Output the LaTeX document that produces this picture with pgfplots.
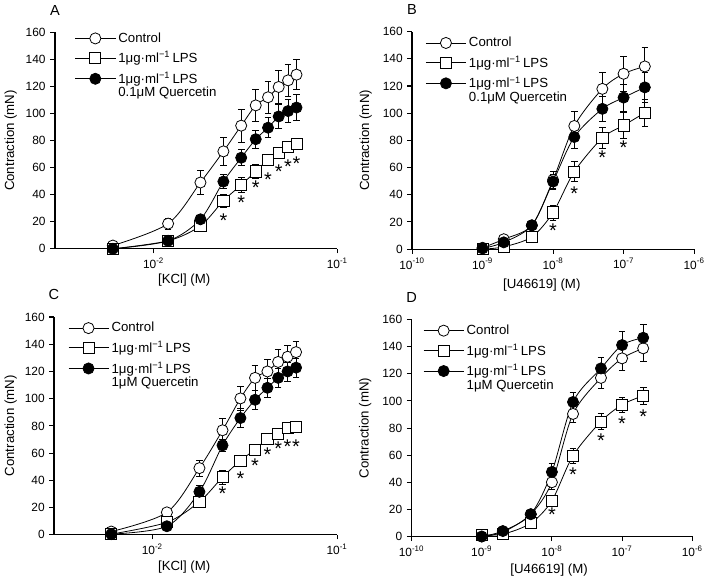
\documentclass[border=0pt]{standalone}
\usepackage{pgfplots}
\pgfplotsset{compat=1.18}
\usepackage{fontspec}
\setmainfont{Liberation Sans}
\newcommand{\lps}{1μg·ml\textsuperscript{\char"2212 1}\,LPS}
\newcommand{\fs}{\fontsize{10}{9.5}\selectfont}
\newcommand{\ft}{\fontsize{9}{10}\selectfont}

\pgfplotsset{
  mypanel/.style={
    scale only axis,
    axis lines*=left, axis line style={line width=0.9pt, -},
    tick style={line width=0.8pt, black}, tick align=outside, major tick length=3.5pt,
    xminorticks=false, yminorticks=false,
    ymin=0, ymax=160, ytick={0,20,...,160},
    clip=false,
    ylabel={Contraction (mN)},
    /pgf/number format/assume math mode=true,
    tick label style={font=\ft},
    label style={font=\fs},
    every axis title/.style={at={(rel axis cs:0,1)}, anchor=base, yshift=13pt, font=\fontsize{11}{12}\selectfont},
    legend style={draw=none, fill=none, font=\fs, anchor=north west, row sep=1.6pt, inner sep=0pt},
    legend cell align=left,
    legend image code/.code={\draw[mark repeat=2, mark phase=2, ##1] plot coordinates {(0cm,0cm) (0.53cm,0cm) (1.06cm,0cm)};},
  },
  myerr/.style={error bars/y dir=both, error bars/y explicit,
    error bars/error bar style={line width=0.6pt},
    error bars/error mark options={rotate=90, mark size=2.5pt, line width=0.6pt}},
  myctrl/.style={black, line width=0.6pt, smooth, mark=*, mark size=4.2pt, mark options={fill=white, draw=black, line width=0.6pt}, myerr},
  mylps/.style={black, line width=0.6pt, smooth, mark=square*, mark size=4.2pt, mark options={fill=white, draw=black, line width=0.6pt}, myerr},
  myquer/.style={black, line width=0.6pt, smooth, mark=*, mark size=4.2pt, mark options={fill=black, draw=black, line width=0.6pt}, myerr},
  mystar/.style={only marks, mark=text, text mark={\fontsize{15}{15}\selectfont *}, forget plot},
}

\begin{document}
\begin{tikzpicture}
\path (0,0) rectangle (531.75pt,-432.75pt);

% ---------- A ----------
\begin{semilogxaxis}[mypanel, at={(39.5pt,-185.25pt)}, anchor=south west,
  width=213.2pt, height=163.5pt, title={A},
  ylabel style={at={(rel axis cs:0,0.5)}, anchor=center, rotate=0, yshift=33.5pt},
  xmin=2.904e-3, xmax=0.1, xtick={0.01,0.1}, xticklabels={10\textsuperscript{-2},10\textsuperscript{-1}},
  xlabel={[KCl] (M)}, xlabel style={at={(rel axis cs:0.458,0)}, anchor=center, yshift=-23.25pt},
  legend style={at={(rel axis cs:0.07,1.012)}}]
\addplot[myctrl] table[x index=0, y index=1, y error index=2] {
0.006 2.4 1.5
0.012 18.6 4
0.018 49 9
0.024 72 10
0.030 91 12
0.036 106 12
0.042 112 12
0.048 119.6 12
0.054 124.5 11.5
0.060 128.7 11
};
\addlegendentry{Control}
\addplot[mylps] table[x index=0, y index=1, y error index=2] {
0.006 0 0.5
0.012 5.9 1.5
0.018 17 2.5
0.024 35.5 5
0.030 47.2 5.5
0.036 57.2 5
0.042 66 4
0.048 71 4
0.054 75 4
0.060 77.8 4
};
\addlegendentry{\lps}
\addplot[myquer] table[x index=0, y index=1, y error index=2] {
0.006 0 0.5
0.012 5.9 1.5
0.018 21.8 3
0.024 49.7 5
0.030 67.3 6
0.036 81 6.5
0.042 89.5 7.5
0.048 97.8 9
0.054 101.8 8.5
0.060 104.4 9.5
};
\addlegendentry{\begin{tabular}[t]{@{}l@{}}\lps\\0.1μM Quercetin\end{tabular}}
\addplot[mystar] coordinates {(0.024,21) (0.030,34) (0.036,45.5) (0.042,51) (0.048,56.7) (0.054,61) (0.060,63)};
\end{semilogxaxis}

% ---------- B ----------
\begin{semilogxaxis}[mypanel, at={(309.2pt,-185.5pt)}, anchor=south west,
  width=213pt, height=164.25pt, title={B},
  ylabel style={at={(rel axis cs:0,0.5)}, anchor=center, rotate=0, yshift=35pt},
  xmin=1e-10, xmax=1e-6, xtick={1e-10,1e-9,1e-8,1e-7,1e-6},
  xticklabels={10\textsuperscript{-10},10\textsuperscript{-9},10\textsuperscript{-8},10\textsuperscript{-7},10\textsuperscript{-6}},
  xlabel={[U46619] (M)}, xlabel style={at={(rel axis cs:0.46,0)}, anchor=center, yshift=-26.8pt},
  legend style={at={(rel axis cs:0.047,0.988)}}]
\addplot[myctrl] table[x index=0, y index=1, y error index=2] {
1e-9 1 1
2e-9 7.3 1.5
5e-9 17.5 2
1e-8 50.9 6
2e-8 90.6 10.5
5e-8 117.9 12
1e-7 129 13
2e-7 134.4 14
};
\addlegendentry{Control}
\addplot[mylps] table[x index=0, y index=1, y error index=2] {
1e-9 0 0.5
2e-9 1.7 1
5e-9 9 2
1e-8 27 5.5
2e-8 57 7.5
5e-8 81.8 8
1e-7 91 9.5
2e-7 100.3 10
};
\addlegendentry{\lps}
\addplot[myquer] table[x index=0, y index=1, y error index=2] {
1e-9 0.5 1
2e-9 5 1.5
5e-9 17.5 2
1e-8 49.7 5.5
2e-8 82.5 8.5
5e-8 103.2 9
1e-7 111.5 10
2e-7 119 11
};
\addlegendentry{\begin{tabular}[t]{@{}l@{}}\lps\\0.1μM Quercetin\end{tabular}}
\addplot[mystar] coordinates {(1e-8,13.4) (2e-8,41) (5e-8,67) (1e-7,75)};
\end{semilogxaxis}

% ---------- C ----------
\begin{semilogxaxis}[mypanel, at={(38.8pt,-401.25pt)}, anchor=south west,
  width=213.75pt, height=164.5pt, title={C},
  ylabel style={at={(rel axis cs:0,0.5)}, anchor=center, rotate=0, yshift=32.8pt},
  xmin=2.94e-3, xmax=0.1, xtick={0.01,0.1}, xticklabels={10\textsuperscript{-2},10\textsuperscript{-1}},
  xlabel={[KCl] (M)}, xlabel style={at={(rel axis cs:0.46,0)}, anchor=center, yshift=-24pt},
  legend style={at={(rel axis cs:0.049,0.989)}}]
\addplot[myctrl] table[x index=0, y index=1, y error index=2] {
0.006 2.4 1.5
0.012 16.5 2
0.018 49 6
0.024 76.8 9
0.030 100.2 9
0.036 115.3 9
0.042 120 9
0.048 127 9
0.054 130.8 8
0.060 134.2 8
};
\addlegendentry{Control}
\addplot[mylps] table[x index=0, y index=1, y error index=2] {
0.006 0.5 0.5
0.012 9.2 1
0.018 24.3 2
0.024 42.3 5
0.030 54.5 4
0.036 62.7 3
0.042 70.5 3
0.048 74.4 3
0.054 78.3 3
0.060 79.3 3
};
\addlegendentry{\lps}
\addplot[myquer] table[x index=0, y index=1, y error index=2] {
0.006 0.5 0.5
0.012 6.3 1.5
0.018 31.6 4.5
0.024 65.7 4.5
0.030 85.8 7
0.036 99.2 7
0.042 108 7
0.048 115.3 7
0.054 120 7
0.060 122.8 7
};
\addlegendentry{\begin{tabular}[t]{@{}l@{}}\lps\\1μM Quercetin\end{tabular}}
\addplot[mystar] coordinates {(0.024,30) (0.030,41.5) (0.036,50.5) (0.042,58.6) (0.048,63) (0.054,64.7) (0.060,65)};
\end{semilogxaxis}

% ---------- D ----------
\begin{semilogxaxis}[mypanel, at={(308.8pt,-402.5pt)}, anchor=south west,
  width=212pt, height=163.8pt, title={D},
  ylabel style={at={(rel axis cs:0,0.5)}, anchor=center, rotate=0, yshift=35pt},
  xmin=1e-10, xmax=1e-6, xtick={1e-10,1e-9,1e-8,1e-7,1e-6},
  xticklabels={10\textsuperscript{-10},10\textsuperscript{-9},10\textsuperscript{-8},10\textsuperscript{-7},10\textsuperscript{-6}},
  xlabel={[U46619] (M)}, xlabel style={at={(rel axis cs:0.49,0)}, anchor=center, yshift=-25.7pt},
  legend style={at={(rel axis cs:0.041,0.989)}}]
\addplot[myctrl] table[x index=0, y index=1, y error index=2] {
1e-9 0 1
2e-9 3.2 1
5e-9 16.4 2
1e-8 40 5
2e-8 90.4 6.5
5e-8 117 8
1e-7 131.4 9
2e-7 138.8 9.5
};
\addlegendentry{Control}
\addplot[mylps] table[x index=0, y index=1, y error index=2] {
1e-9 1.2 0.5
2e-9 1.7 0.5
5e-9 9.8 1.5
1e-8 26.4 4
2e-8 59.6 5.5
5e-8 84.8 6
1e-7 97.2 5.5
2e-7 103.8 6
};
\addlegendentry{\lps}
\addplot[myquer] table[x index=0, y index=1, y error index=2] {
1e-9 0 1
2e-9 4 1
5e-9 16.4 2
1e-8 47.6 6.5
2e-8 99.2 7
5e-8 124 8
1e-7 141.2 10
2e-7 146.6 10
};
\addlegendentry{\begin{tabular}[t]{@{}l@{}}\lps\\1μM Quercetin\end{tabular}}
\addplot[mystar] coordinates {(1e-8,16) (2e-8,45.4) (5e-8,71) (1e-7,83.3) (2e-7,88.7)};
\end{semilogxaxis}
\end{tikzpicture}
\end{document}
